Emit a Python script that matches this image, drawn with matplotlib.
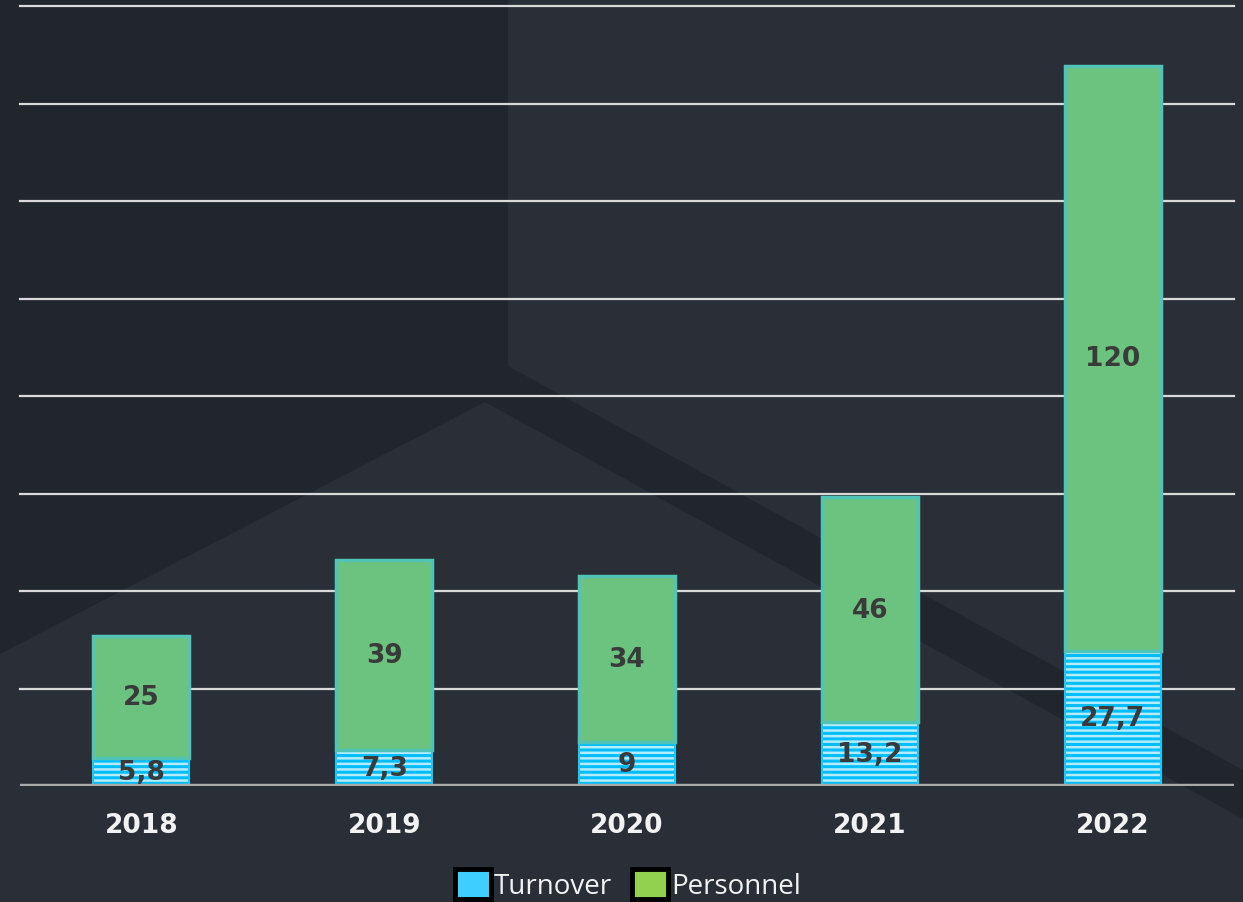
import numpy as np
import matplotlib
matplotlib.use('Agg')
import matplotlib.pyplot as plt
from matplotlib.patches import Patch, Polygon

plt.rcParams.update({
    'font.family': ['Open Sans', 'DejaVu Sans'],
    'hatch.linewidth': 1.8,
})

# data
years = ['2018', '2019', '2020', '2021', '2022']
turnover = [5.8, 7.3, 9, 13.2, 27.7]
personnel = [25, 39, 34, 46, 120]
grid_values = [20, 40, 60, 80, 100, 120, 140, 160]

def fmt(v):
    return f'{v:g}'.replace('.', ',')

fig = plt.figure(figsize=(12.43, 9.03), dpi=100)
fig.patch.set_facecolor('#2a2f37')

# background geometry (pixel coords -> figure fraction)
W, H = 1243, 903
shape = [(0, 0), (508, 0), (508, 367), (1243, 771), (1243, 820), (485, 403), (0, 655)]
fig.patches.append(Polygon([(x / W, 1 - y / H) for x, y in shape],
                           closed=True, transform=fig.transFigure,
                           facecolor='#21262d', edgecolor='none', zorder=-10))

ax = fig.add_axes([20 / W, 1 - 787 / H, 1214 / W, 780 / H])
ax.set_facecolor('none')
x = np.arange(len(years))
width = 0.395

for g in grid_values:
    ax.axhline(g, color='#d9d9d9', lw=1.6, zorder=0, clip_on=False)

# turnover (striped)
ax.bar(x, turnover, width, color='#00bdfd', edgecolor='#b4ecff', hatch='---',
       linewidth=0, zorder=2)
ax.bar(x, turnover, width, fill=False, edgecolor='#22c6f5', linewidth=1.5, zorder=2)
# personnel
ax.bar(x, personnel, width, bottom=turnover, color='#6cc380', edgecolor='#52c4b6',
       linewidth=2.5, zorder=2)

ax.axhline(0, color='#a9a9a9', lw=3.2, zorder=3)

bold = dict(family='DejaVu Sans', fontweight='bold', fontsize=19)
for i in range(len(years)):
    ax.text(x[i], turnover[i] / 2, fmt(turnover[i]), ha='center', va='center',
            color='#3a3a3a', zorder=4, **bold)
    ax.text(x[i], turnover[i] + personnel[i] / 2, fmt(personnel[i]), ha='center',
            va='center', color='#3a3a3a', zorder=4, **bold)

ax.set_xlim(-0.5, 4.5)
ax.set_ylim(0, 160)
ax.set_xticks(x)
ax.set_xticklabels(years, color='#f2f2f2', **bold)
ax.tick_params(axis='x', length=0, pad=19)
ax.set_yticks([])
for s in ax.spines.values():
    s.set_visible(False)

handles = [Patch(facecolor='#3dcfff', edgecolor='black', linewidth=3.5, label='Turnover'),
           Patch(facecolor='#92d050', edgecolor='black', linewidth=3.5, label='Personnel')]
leg = fig.legend(handles=handles, loc='lower center', bbox_to_anchor=(0.505, -0.026),
                 ncol=2, frameon=False, fontsize=20, handlelength=1.3, handleheight=1.3,
                 handletextpad=0.12, columnspacing=0.7)
for t in leg.get_texts():
    t.set_color('#f2f2f2')

fig.savefig('out.png', dpi=100, facecolor=fig.get_facecolor())
